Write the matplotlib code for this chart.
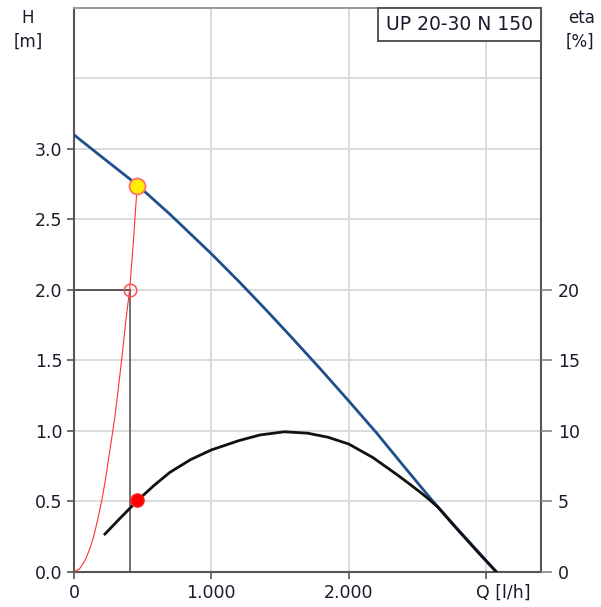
import matplotlib
matplotlib.use("Agg")
import matplotlib.pyplot as plt
from matplotlib.patches import Rectangle

# ---- data ----
q_pump = [0, 200, 458, 700, 1000, 1200, 1400, 1600, 1800, 2000, 2200, 2400, 2600, 2800, 3000, 3075]
h_pump = [3.10, 2.945, 2.747, 2.535, 2.256, 2.06, 1.856, 1.646, 1.432, 1.212, 0.988, 0.75, 0.515, 0.295, 0.08, 0.0]

q_eta = [225, 345, 465, 580, 698, 850, 1000, 1200, 1353, 1531, 1700, 1850, 2000, 2176, 2357, 2450, 2530, 2590, 2650, 2740, 2840, 2960, 3073]
eta = [2.67, 3.89, 5.07, 6.10, 7.05, 7.96, 8.64, 9.30, 9.70, 9.93, 9.83, 9.54, 9.06, 8.10, 6.85, 6.17, 5.57, 5.09, 4.57, 3.56, 2.47, 1.18, 0.0]

q_sys = [0, 40, 80, 110, 141, 175, 201, 225, 250, 275, 298, 325, 350, 375, 405, 430, 460]
h_sys = [0, 0.02, 0.08, 0.15, 0.24, 0.38, 0.50, 0.63, 0.79, 0.95, 1.10, 1.32, 1.53, 1.76, 2.0, 2.31, 2.74]

duty_q, duty_h = 405, 2.0
op_q, op_h = 460, 2.74
op_eta = 5.1

x_ticks = [0, 1000, 2000, 3000]
x_labels = ["0", "1.000", "2.000", ""]
x_unit = "Q [l/h]"
h_ticks = [0.0, 0.5, 1.0, 1.5, 2.0, 2.5, 3.0]
h_labels = ["0.0", "0.5", "1.0", "1.5", "2.0", "2.5", "3.0"]
eta_ticks = [0, 5, 10, 15, 20]
title = "UP 20-30 N 150"

txt_c = '#1a1a2a'
plt.rcParams['font.family'] = ['DejaVu Sans']
fig = plt.figure(figsize=(6.01, 6.07), dpi=100)
ax = fig.add_axes([74/601, 1-571.7/607, 467/601, 563.7/607])
ax.set_xlim(0, 3400)
ax.set_ylim(0, 4.0)

grid_c = '#d9dcdf'
ax.set_xticks(x_ticks)
ax.set_xticklabels(x_labels)
ax.set_yticks(h_ticks)
ax.set_yticklabels(h_labels)
ax.set_yticks([3.5], minor=True)
ax.grid(True, which='both', color=grid_c, linewidth=1.4, zorder=0)
ax.tick_params(axis='y', which='minor', length=0)
ax.tick_params(axis='both', which='major', labelsize=12.5, colors='#555', labelcolor=txt_c, length=5, width=1.2)
ax.tick_params(axis='x', pad=4)
ax.annotate(x_unit, xy=(3000, 0), xycoords=('data', 'axes fraction'), xytext=(-7, -9),
            textcoords='offset points', ha='left', va='top', fontsize=12.5, color=txt_c)

for s in ['left', 'bottom', 'right']:
    ax.spines[s].set_color('#555555')
    ax.spines[s].set_linewidth(1.5)
ax.spines['top'].set_color('#999999')
ax.spines['top'].set_linewidth(1.4)

# drop lines for the duty point
ax.plot([duty_q, duty_q], [0, duty_h], color='#707070', lw=1.4, zorder=2)
ax.plot([0, duty_q], [duty_h, duty_h], color='#555555', lw=1.4, zorder=2)

# system curve
ax.plot(q_sys, h_sys, color='#ff3030', lw=0.8, zorder=3)
# pump curve
ax.plot(q_pump, h_pump, color='#1f4f8a', lw=2.0, zorder=4, solid_joinstyle='round')

ax2 = ax.twinx()
ax2.set_ylim(0, 40)
ax2.set_yticks(eta_ticks)
ax2.tick_params(axis='y', labelsize=12.5, colors='#888', labelcolor=txt_c, length=8, width=1.2, pad=4)
for s in ax2.spines.values():
    s.set_visible(False)

ax2.plot(q_eta, eta, color='#111111', lw=2.0, zorder=4, solid_joinstyle='round')
ax2.plot([op_q], [op_eta], 'o', ms=9.5, color='#ff0000', mec='#ff2020', zorder=6)

# operating point and duty marker on top
ax3 = fig.add_axes(ax.get_position(), sharex=ax, sharey=ax, frameon=False)
ax3.axis('off')
ax3.plot([op_q], [op_h], 'o', ms=11.5, mfc='#ffee00', mec='#ff7070', mew=1.3, zorder=6)
ax3.plot([duty_q], [duty_h], 'o', ms=9, mfc='none', mec='#ff5050', mew=1.1, zorder=6)

# title box
ax3.add_patch(Rectangle((0.651, 0.9415), 0.349, 0.0585, transform=ax3.transAxes,
                        facecolor='white', edgecolor='#555555', lw=1.4, zorder=7, clip_on=False))
ax3.text(0.8255, 0.9707, title, transform=ax3.transAxes, ha='center', va='center',
         fontsize=13.5, color=txt_c, zorder=8)

fig.text(28/601, 1-18/607, "H", ha='center', va='center', fontsize=12, color=txt_c)
fig.text(28/601, 1-42/607, "[m]", ha='center', va='center', fontsize=12, color=txt_c)
fig.text(568/601, 1-18/607, "eta", ha='left', va='center', fontsize=12, color=txt_c)
fig.text(566/601, 1-42/607, "[%]", ha='left', va='center', fontsize=12, color=txt_c)

fig.savefig("out.png", dpi=100)
